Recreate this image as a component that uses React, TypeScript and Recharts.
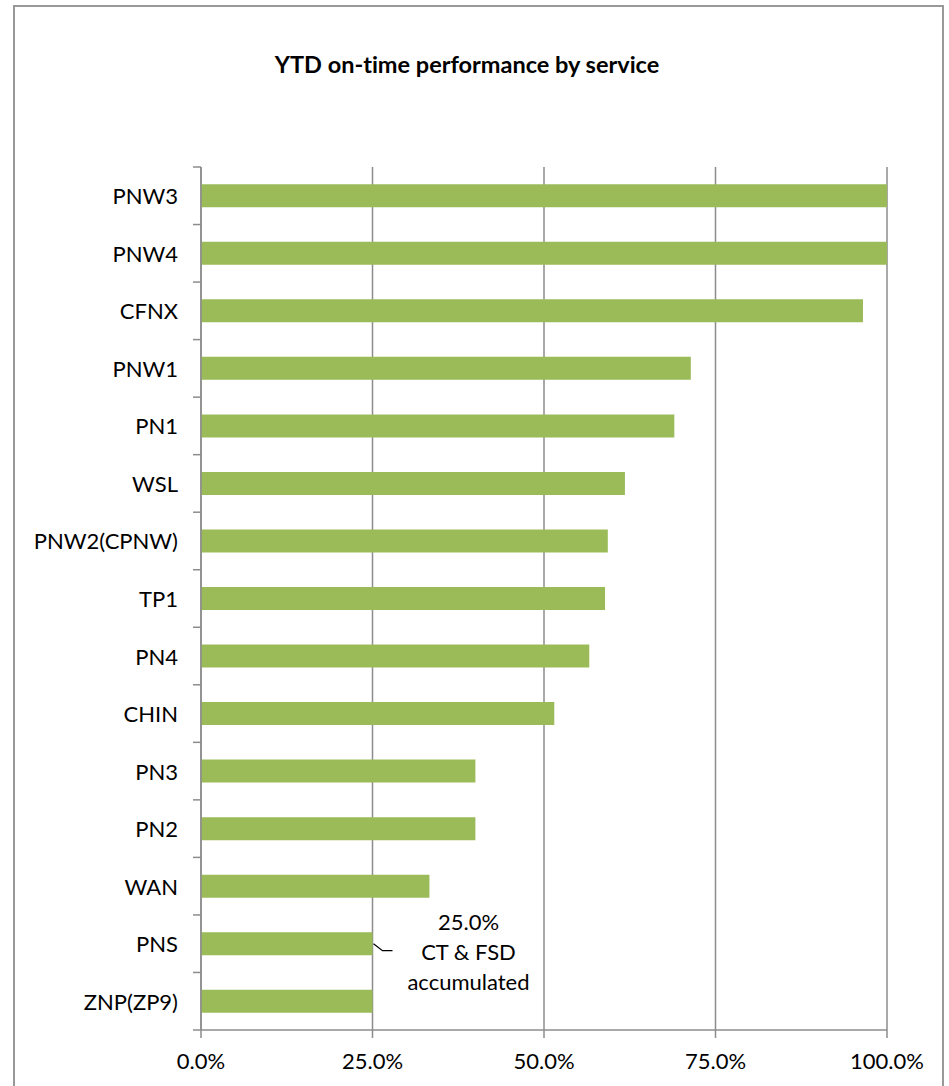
import React from "react";
import { BarChart, Bar, XAxis, YAxis, CartesianGrid, LabelList } from "recharts";

const categories = [
  "PNW3", "PNW4", "CFNX", "PNW1", "PN1", "WSL", "PNW2(CPNW)", "TP1",
  "PN4", "CHIN", "PN3", "PN2", "WAN", "PNS", "ZNP(ZP9)",
];
const onTime = [
  1.0, 1.0, 0.965, 0.714, 0.69, 0.618, 0.593, 0.589,
  0.566, 0.515, 0.4, 0.4, 0.333, 0.25, 0.25,
];
const xTicks = [0, 0.25, 0.5, 0.75, 1];
const title = "YTD on-time performance by service";
const annotationCategory = "PNS";
const annotationLines = ["25.0%", "CT & FSD", "accumulated"];

const data = categories.map((c, i) => ({ name: c, value: onTime[i] }));

const FONT = "Lato, 'Open Sans', sans-serif";
const GRID = "#8c8c8c";
const BAR = "#9BBB59";

const W = 949;
const H = 1086;
const MARGIN_TOP = 167;
const X_AXIS_H = 56;
const Y_AXIS_W = 201;
const BAND = (H - MARGIN_TOP - X_AXIS_H) / categories.length;

const pct = (v: number) => `${(v * 100).toFixed(1)}%`;

const CatTick = (props: any) => {
  const { x, y, payload, index } = props;
  const ax = Y_AXIS_W;
  const top = y - BAND / 2;
  const bottom = y + BAND / 2;
  return (
    <g>
      <line x1={ax - 8} x2={ax} y1={top} y2={top} stroke={GRID} strokeWidth={1.5} />
      {index === categories.length - 1 && (
        <line x1={ax - 8} x2={ax} y1={bottom} y2={bottom} stroke={GRID} strokeWidth={1.5} />
      )}
      <text
        x={x}
        y={y}
        textAnchor="end"
        dominantBaseline="central"
        fontFamily={FONT}
        fontSize={22}
        fill="#000"
      >
        {payload.value}
      </text>
    </g>
  );
};

const Annotation = (props: any) => {
  const { x, y, width, height, index } = props;
  if (categories[index] !== annotationCategory) return null;
  const x0 = x + width;
  const yc = y + height / 2;
  const tx = x0 + 96;
  return (
    <g>
      <polyline
        points={`${x0 + 1},${yc} ${x0 + 10},${yc + 7} ${x0 + 20},${yc + 7}`}
        fill="none"
        stroke="#000"
        strokeWidth={1.2}
      />
      {annotationLines.map((t, i) => (
        <text
          key={i}
          x={tx}
          y={yc - 22 + i * 30}
          textAnchor="middle"
          dominantBaseline="central"
          fontFamily={FONT}
          fontSize={22}
          fill="#000"
        >
          {t}
        </text>
      ))}
    </g>
  );
};

export default function App() {
  return (
    <div style={{ position: "absolute", left: 0, top: 0, width: W, height: H, background: "#fff", overflow: "hidden" }}>
      <div
        style={{
          position: "absolute",
          left: 13,
          top: 5,
          width: 931,
          height: 1120,
          border: "2px solid #999",
          boxSizing: "border-box",
        }}
      />
      <div
        style={{
          position: "absolute",
          left: 0,
          top: 50,
          width: 934,
          textAlign: "center",
          fontFamily: FONT,
          fontWeight: 700,
          fontSize: 23.5,
          color: "#000",
          fontVariantLigatures: "none",
        }}
      >
        {title}
      </div>
      <div style={{ position: "absolute", left: 0, top: 0 }}>
        <BarChart
          width={W}
          height={H}
          data={data}
          layout="vertical"
          margin={{ top: MARGIN_TOP, right: 62, bottom: 0, left: 0 }}
          barCategoryGap="30%"
        >
          <CartesianGrid horizontal={false} vertical={true} stroke={GRID} strokeWidth={1.5} />
          <XAxis
            type="number"
            dataKey="value"
            domain={[0, 1]}
            ticks={xTicks}
            tickFormatter={pct}
            tickSize={8}
            tickMargin={15}
            height={X_AXIS_H}
            axisLine={{ stroke: GRID, strokeWidth: 1.5 }}
            tickLine={{ stroke: GRID, strokeWidth: 1.5 }}
            tick={{ fill: "#000", fontFamily: FONT, fontSize: 22 }}
            interval={0}
          />
          <YAxis
            type="category"
            dataKey="name"
            width={Y_AXIS_W}
            tickSize={0}
            tickMargin={23}
            axisLine={{ stroke: GRID, strokeWidth: 1.5 }}
            tickLine={false}
            tick={<CatTick />}
            interval={0}
          />
          <Bar dataKey="value" fill={BAR} isAnimationActive={false}>
            <LabelList dataKey="value" content={<Annotation />} />
          </Bar>
        </BarChart>
      </div>
    </div>
  );
}
